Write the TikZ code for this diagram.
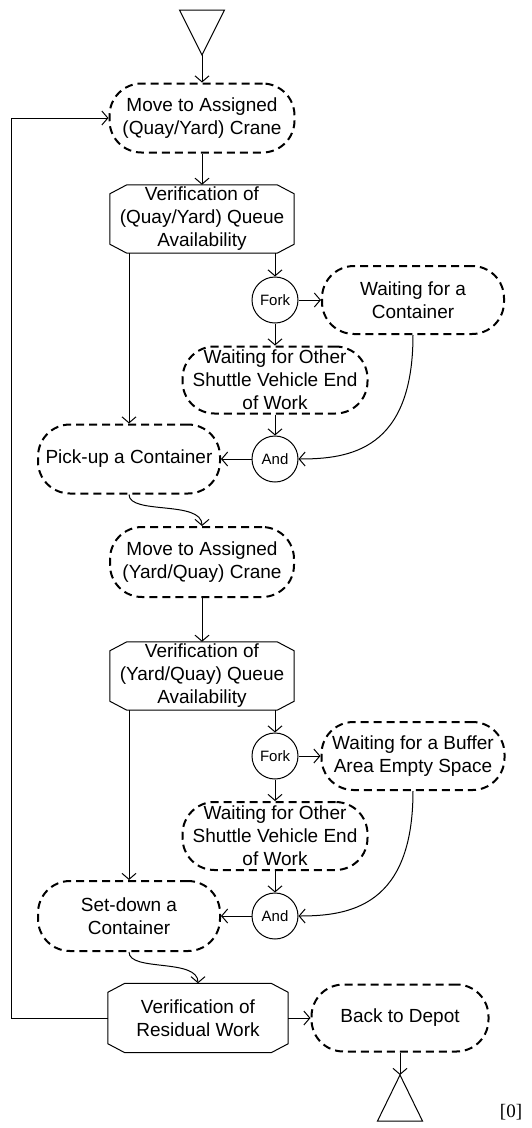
\documentclass[tikz,border=0pt]{standalone}
\usepackage{fontspec}
\setmainfont{Liberation Sans}
\newfontfamily\timesf{Liberation Serif}
\usetikzlibrary{arrows.meta,calc}
\newcommand\octabox[1]{%
  \draw[line width=1pt] ($(#1.north west)+(17,0)$) -- ($(#1.north east)+(-17,0)$)
    -- ($(#1.north east)+(0,9)$) -- ($(#1.south east)+(0,-9)$)
    -- ($(#1.south east)+(-17,0)$) -- ($(#1.south west)+(17,0)$)
    -- ($(#1.south west)+(0,-9)$) -- ($(#1.north west)+(0,9)$) -- cycle;}
\begin{document}
\begin{tikzpicture}[x=1pt,y=-1pt,
  every node/.style={font=\fontsize{19}{23}\selectfont, align=center, inner sep=0pt},
  act/.style={draw, line width=2pt, dash pattern=on 8pt off 5pt, rounded corners=32pt,
    minimum width=184pt, minimum height=68pt},
  verif/.style={rectangle, minimum width=184pt, minimum height=68pt},
  gate/.style={draw, line width=1pt, circle, minimum size=46pt, font=\fontsize{15}{18}\selectfont},
  conn/.style={draw, line width=1pt, -{Straight Barb[length=6pt,width=14pt]}},
  term/.style={draw, line width=1pt}]
\useasboundingbox (0,0) rectangle (532,1128);

% start and end
\draw[term] (179.5,10) -- (224.5,10) -- (202,55) -- cycle;
\coordinate (start) at (202,55);
\draw[term] (377.5,1121) -- (422.5,1121) -- (400,1075) -- cycle;
\coordinate (finish) at (400,1075);

% nodes
\node[act, minimum width=185pt, minimum height=69pt] (m1) at (202,118) {Move to Assigned\\(Quay/Yard) Crane};
\node[verif] (v1) at (202,219) {Verification of\\(Quay/Yard) Queue\\Availability};
\octabox{v1}
\node[gate] (f1) at (275,300) {Fork};
\node[act, minimum width=182pt] (wc) at (413,300) {Waiting for a\\Container};
\node[act, minimum width=185pt, minimum height=67pt] (wo1) at (275,380) {Waiting for Other\\Shuttle Vehicle End\\of Work};
\node[gate] (a1) at (275,459) {And};
\node[act, minimum width=182pt, minimum height=69pt] (pick) at (129,459) {Pick-up a Container};

\node[act, minimum height=70pt] (m2) at (202,562) {Move to Assigned\\(Yard/Quay) Crane};
\node[verif] (v2) at (202,676) {Verification of\\(Yard/Quay) Queue\\Availability};
\octabox{v2}
\node[gate] (f2) at (275,756) {Fork};
\node[act, minimum width=183pt] (wb) at (413,756) {Waiting for a Buffer\\Area Empty Space};
\node[act, minimum width=185pt] (wo2) at (275,836) {Waiting for Other\\Shuttle Vehicle End\\of Work};
\node[gate] (a2) at (275,916) {And};
\node[act, minimum width=182pt, minimum height=70pt] (set) at (129,916) {Set-down a\\Container};

\node[verif, minimum width=180pt, minimum height=69pt] (v3) at (198,1018) {Verification of\\Residual Work};
\octabox{v3}
\node[act, minimum width=177pt, minimum height=67pt] (dep) at (400,1018) {Back to Depot};

\node[anchor=base, font=\timesf\fontsize{19}{23}\selectfont] (lbl) at (511,1117) {[0]};

% connectors
\draw[conn] (start) -- (m1.north);
\draw[conn] (m1.south) -- (v1.north);
\draw[conn] (f1.north |- v1.south) -- (f1.north);
\draw[conn] (pick.north |- v1.south) -- (pick.north);
\draw[conn] (f1.east) -- (wc.west);
\draw[conn] (f1.south) -- (wo1.north);
\draw[conn] (wo1.south) -- (a1.north);
\draw[conn] (wc.south) .. controls (413,450) and (350,459) .. (a1.east);
\draw[conn] (a1.west) -- (pick.east);
\draw[conn] (pick.south) .. controls (129,515) and (202,500) .. (m2.north);

\draw[conn] (m2.south) -- (v2.north);
\draw[conn] (f2.north |- v2.south) -- (f2.north);
\draw[conn] (set.north |- v2.south) -- (set.north);
\draw[conn] (f2.east) -- (wb.west);
\draw[conn] (f2.south) -- (wo2.north);
\draw[conn] (wo2.south) -- (a2.north);
\draw[conn] (wb.south) .. controls (413,906) and (350,916) .. (a2.east);
\draw[conn] (a2.west) -- (set.east);
\draw[conn] (set.south) .. controls (129,972) and (198,958) .. (v3.north);

\coordinate (loop) at (11,1018);
\draw[conn] (v3.west) -- (loop) |- (m1.west);
\draw[conn] (v3.east) -- (dep.west);
\draw[conn] (dep.south) -- (finish);
\end{tikzpicture}
\end{document}
